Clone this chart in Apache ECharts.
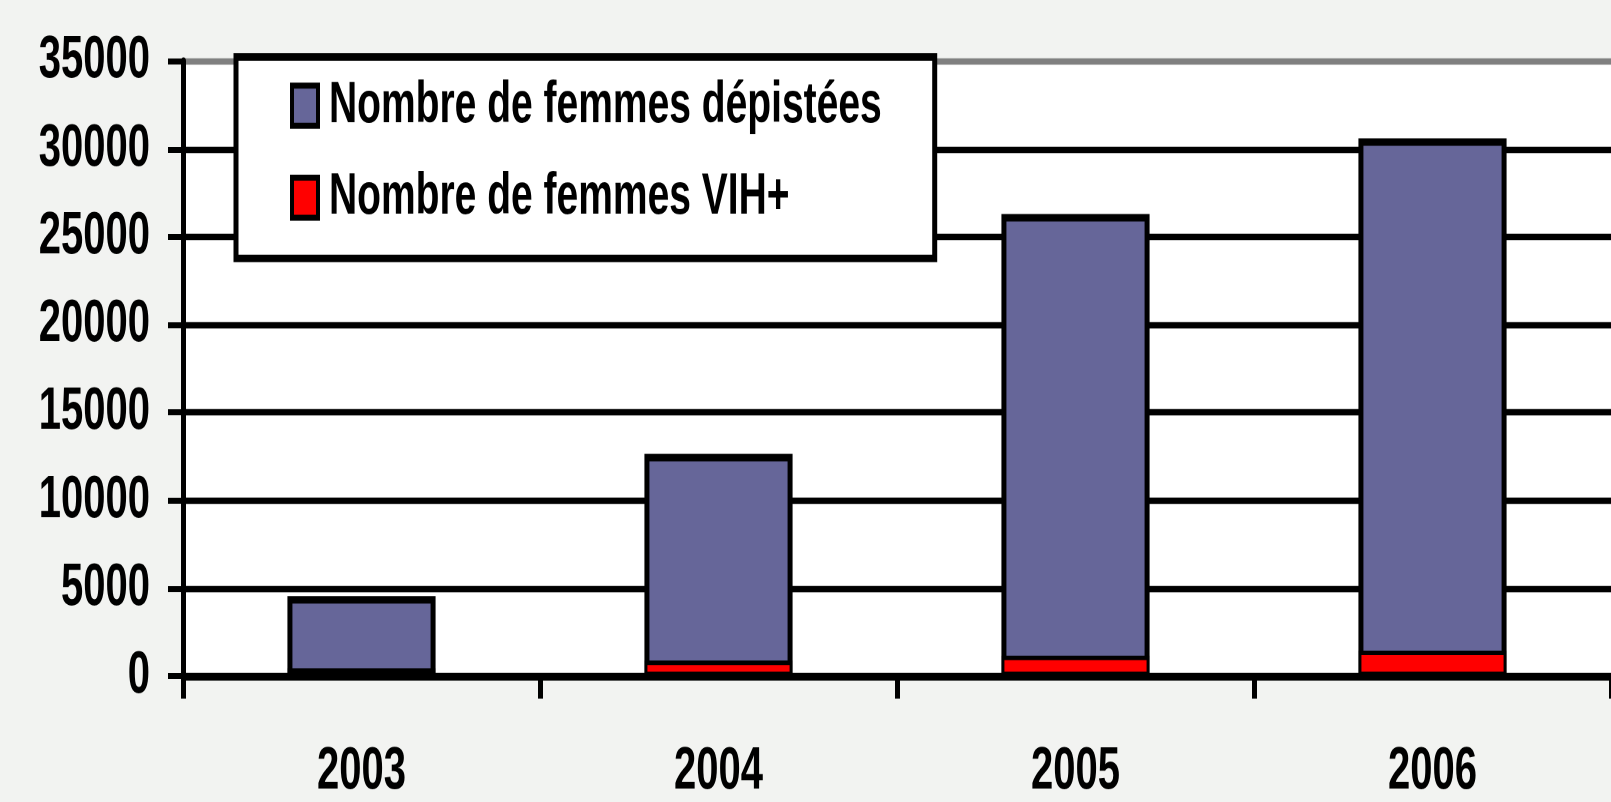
<!DOCTYPE html>
<html>
<head>
<meta charset="utf-8">
<script src="https://cdn.jsdelivr.net/npm/echarts@6/dist/echarts.min.js"></script>
<style>
  html, body { margin: 0; padding: 0; background: #f2f3f1; }
  body { width: 1611px; height: 802px; }
  /* le graphique d'origine est etire verticalement : on dessine a 535px de haut puis on etire a 802px */
  #main { width: 1611px; height: 535px; transform-origin: 0 0; transform: scaleY(1.49907); }
</style>
</head>
<body>
<div id="main"></div>
<script>
// donnees
var annees = ['2003', '2004', '2005', '2006'];
var depistees = [4550, 12650, 26300, 30600];
var vihPlus = [450, 880, 1160, 1450];
var yTicks = [0, 5000, 10000, 15000, 20000, 25000, 30000, 35000];

var police = '"Liberation Sans", Arial, sans-serif';

var myChart = echarts.init(document.getElementById('main'), null, { devicePixelRatio: 2 });

var option = {
	backgroundColor: '#f2f3f1',
	animation: false,
	grid: {
		left: 183,
		top: 40.7,
		width: 1436,
		bottom: 82,
		show: true,
		backgroundColor: '#ffffff',
		borderWidth: 0
	},
	legend: {
		orient: 'vertical',
		left: 236,
		top: 38,
		padding: [11, 53, 19, 54],
		itemWidth: 26,
		itemHeight: 26.7,
		itemGap: 18.4,
		backgroundColor: '#ffffff',
		borderColor: '#000000',
		borderWidth: 5,
		borderRadius: 0,
		icon: 'rect',
		itemStyle: { borderColor: '#000000', borderWidth: 4 },
		textStyle: {
			fontFamily: police,
			fontWeight: 'bold',
			fontSize: 39,
			lineHeight: 39,
			color: '#000000',
			padding: [4, 0, 0, 6]
		},
		data: ['Nombre de femmes dépistées', 'Nombre de femmes VIH+']
	},
	xAxis: {
		type: 'category',
		data: annees,
		boundaryGap: true,
		axisLine: { show: true, lineStyle: { color: '#000000', width: 5 } },
		axisTick: { show: true, interval: 0, alignWithLabel: false, length: 15, lineStyle: { color: '#000000', width: 5 } },
		axisLabel: {
			margin: 44,
			fontFamily: police,
			fontWeight: 'bold',
			fontSize: 40,
			lineHeight: 40,
			color: '#000000'
		}
	},
	yAxis: {
		type: 'value',
		min: 0,
		max: 35000,
		interval: 5000,
		axisLine: { show: true, lineStyle: { color: '#000000', width: 5 } },
		axisTick: { show: true, inside: false, length: 15, lineStyle: { color: '#000000', width: 4 } },
		axisLabel: {
			margin: 33,
			fontFamily: police,
			fontWeight: 'bold',
			fontSize: 40,
			color: '#000000',
			formatter: function (v) { return yTicks.indexOf(v) >= 0 ? String(v) : ''; }
		},
		splitLine: {
			show: true,
			lineStyle: {
				width: 4.3,
				color: ['#000000', '#000000', '#000000', '#000000', '#000000', '#000000', '#000000', '#808080']
			}
		}
	},
	series: [
		{
			name: 'Nombre de femmes dépistées',
			type: 'bar',
			data: depistees,
			barWidth: '41.5%',
			barGap: '-100%',
			itemStyle: { color: '#666699', borderColor: '#000000', borderWidth: 5 }
		},
		{
			name: 'Nombre de femmes VIH+',
			type: 'bar',
			data: vihPlus,
			barWidth: '41.5%',
			barGap: '-100%',
			itemStyle: { color: '#ff0000', borderColor: '#000000', borderWidth: 3 }
		}
	]
};

myChart.setOption(option);
</script>
</body>
</html>
